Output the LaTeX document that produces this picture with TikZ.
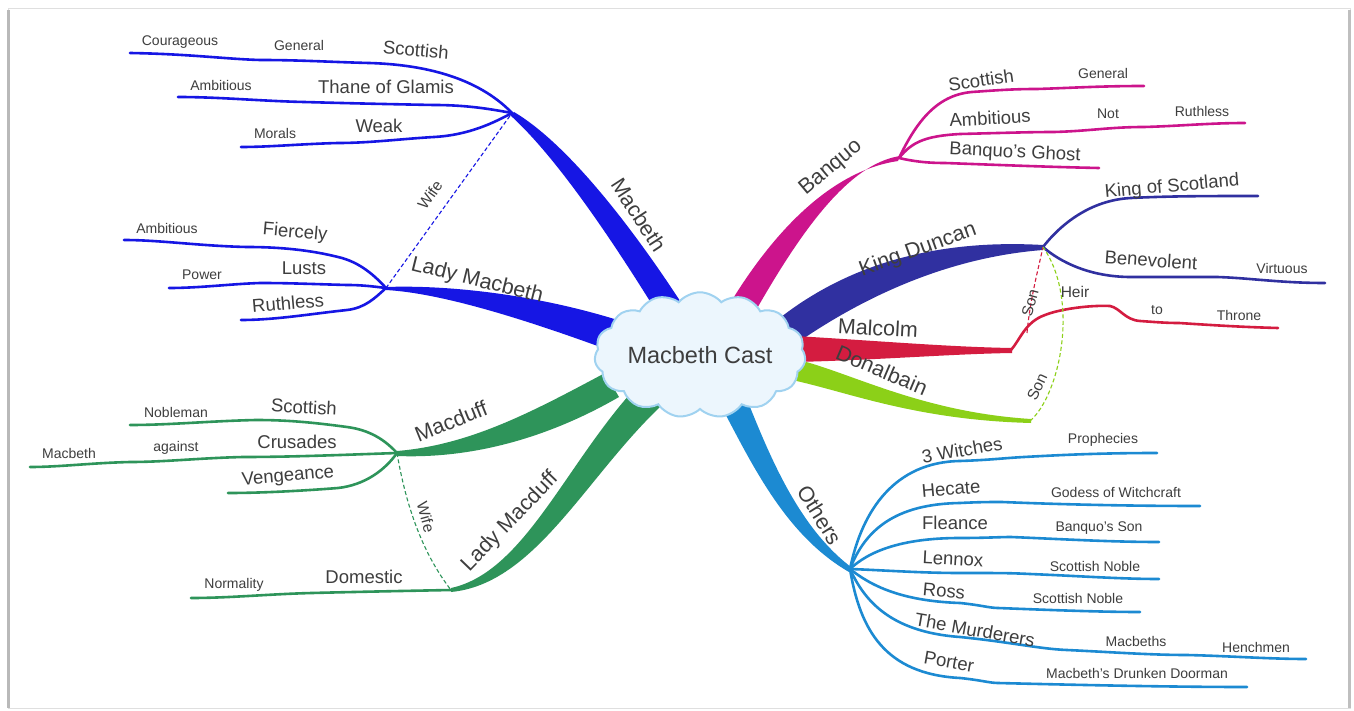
\documentclass[tikz,border=0pt]{standalone}
\usepackage{fontspec}
\setmainfont{Liberation Sans}
\usetikzlibrary{shapes.symbols}
\definecolor{mbc}{RGB}{22,22,228}
\definecolor{bqc}{RGB}{204,20,140}
\definecolor{kdc}{RGB}{48,48,160}
\definecolor{mcc}{RGB}{212,28,64}
\definecolor{dnc}{RGB}{140,208,24}
\definecolor{otc}{RGB}{28,138,210}
\definecolor{mdc}{RGB}{46,148,90}
\definecolor{txc}{RGB}{62,62,62}
\definecolor{cldf}{RGB}{236,246,253}
\definecolor{cldd}{RGB}{160,210,240}
\begin{document}
\begin{tikzpicture}[x=1pt,y=-1pt,
  main/.style={font=\fontsize{21.5}{24}\selectfont, text=txc, inner sep=0pt},
  sub/.style={font=\fontsize{18.5}{21}\selectfont, text=txc, inner sep=0pt},
  leaf/.style={font=\fontsize{14}{16}\selectfont, text=txc, inner sep=0pt},
  rl/.style={font=\fontsize{15.5}{17}\selectfont, text=txc, inner sep=0pt},
  br/.style={line width=2.6pt, line cap=round, line join=round},
  rel/.style={line width=1.1pt, dash pattern=on 4pt off 2.5pt},
]
\fill[white] (0,0) rectangle (1354,711);
\useasboundingbox (0,0) rectangle (1354,711);
\draw[gray!25, line width=1pt] (8,9) rectangle (1350,708);
\draw[gray!55, line width=2.5pt] (8.5,10) -- (8.5,708);
\draw[gray!50, line width=2.5pt] (1349.5,10) -- (1349.5,708);

% hubs
\coordinate (MB) at (512,113);
\coordinate (LMB) at (386,288);
\coordinate (MD) at (397,453);
\coordinate (LMD) at (451,590);
\coordinate (BQ) at (899,158);
\coordinate (KD) at (1043,247);
\coordinate (OT) at (850,569);
\coordinate (ML) at (1011,350);
\coordinate (DB) at (1030,421);
\coordinate (MLs) at (1027,333);

% thick main branches
\fill[mbc] (514,112) .. controls (575,148) and (648,250) .. (691,318) -- (669,332) .. controls (625,260) and (562,162) .. (510,115) -- cycle;
\fill[mbc] (386,287) .. controls (440,285) and (530,292) .. (624,322) -- (614,352) .. controls (522,318) and (440,293) .. (386,290) -- cycle;
\fill[mdc] (397,451) .. controls (470,445) and (532,412) .. (605,373) -- (619,397) .. controls (548,438) and (472,459) .. (397,456) -- cycle;
\fill[mdc] (451,588) .. controls (525,572) and (566,462) .. (639,384) -- (661,406) .. controls (585,478) and (535,584) .. (451,592) -- cycle;
\fill[bqc] (900,156) .. controls (848,164) and (800,232) .. (751,319) -- (729,305) .. controls (778,224) and (836,170) .. (898,161) -- cycle;
\fill[kdc] (1043,245) .. controls (955,240) and (858,255) .. (776,321) -- (794,345) .. controls (880,285) and (965,256) .. (1043,250) -- cycle;
\fill[mcc] (795,336) .. controls (880,341) and (950,347) .. (1012,348) -- (1012,353) .. controls (950,354) and (880,360) .. (795,362) -- cycle;
\fill[dnc] (795,359) .. controls (850,372) and (920,412) .. (1031,419) -- (1031,423) .. controls (915,420) and (848,392) .. (792,380) -- cycle;
\fill[otc] (744,392) .. controls (768,452) and (797,526) .. (851,567) -- (849,572) .. controls (785,535) and (752,464) .. (720,404) -- cycle;

% Macbeth sub-branches
\draw[br,mbc] (MB) .. controls (485,85) and (440,65) .. (369,63) .. controls (330,62) and (300,60) .. (260,60) .. controls (225,59) and (190,54) .. (130,53) coordinate (mbS);
\draw[br,mbc] (MB) .. controls (495,110) and (470,105) .. (434,105) .. controls (380,104) and (340,103) .. (304,102) .. controls (260,101) and (220,97) .. (178,97) coordinate (mbT);
\draw[br,mbc] (MB) .. controls (495,122) and (470,135) .. (434,137) .. controls (400,139) and (370,143) .. (338,143) .. controls (300,144) and (270,147) .. (241,147) coordinate (mbW);
% Lady Macbeth
\draw[br,mbc] (LMB) .. controls (375,276) and (360,262) .. (338,257) .. controls (310,250) and (280,247) .. (247,247) .. controls (200,246) and (160,240) .. (124,240) coordinate (lmF);
\draw[br,mbc] (LMB) .. controls (370,286) and (360,285) .. (347,285) .. controls (310,284) and (290,283) .. (260,283) .. controls (230,284) and (200,288) .. (169,288) coordinate (lmL);
\draw[br,mbc] (LMB) .. controls (375,298) and (365,308) .. (347,310) .. controls (310,314) and (275,320) .. (241,320) coordinate (lmR);
\draw[rel,mbc] (LMB) -- (MB);
% Macduff
\draw[br,mdc] (MD) .. controls (385,440) and (370,430) .. (347,427) .. controls (310,422) and (285,420) .. (256,420) .. controls (210,421) and (170,425) .. (130,425) coordinate (mdS);
\draw[br,mdc] (MD) .. controls (340,455) and (290,457) .. (243,457) .. controls (200,458) and (165,462) .. (130,462) .. controls (90,463) and (60,467) .. (30,467) coordinate (mdC);
\draw[br,mdc] (MD) .. controls (385,470) and (365,485) .. (338,488) .. controls (300,491) and (260,493) .. (228,493) coordinate (mdV);
\draw[br,mdc] (LMD) .. controls (400,591) and (350,592) .. (312,593) .. controls (270,594) and (230,598) .. (191,598) coordinate (lmdD);
\draw[rel,mdc] (MD) .. controls (405,500) and (420,550) .. (LMD);
% Banquo
\draw[br,bqc] (BQ) .. controls (915,125) and (935,95) .. (972,92) .. controls (1000,90) and (1015,89) .. (1037,89) .. controls (1070,88) and (1100,86) .. (1144,86) coordinate (bqS);
\draw[br,bqc] (BQ) .. controls (912,142) and (925,136) .. (960,134) .. controls (1000,133) and (1030,132) .. (1054,132) .. controls (1090,131) and (1110,127) .. (1144,127) .. controls (1180,126) and (1210,123) .. (1245,123) coordinate (bqA);
\draw[br,bqc] (BQ) .. controls (912,161) and (925,163) .. (945,163) .. controls (1000,165) and (1050,167) .. (1099,168) coordinate (bqG);
% King Duncan
\draw[br,kdc] (KD) .. controls (1060,225) and (1090,200) .. (1131,198) .. controls (1170,196) and (1210,196) .. (1258,196) coordinate (kdK);
\draw[br,kdc] (KD) .. controls (1060,262) and (1090,277) .. (1131,277) .. controls (1160,277) and (1190,277) .. (1217,277) .. controls (1250,278) and (1280,283) .. (1325,283) coordinate (kdB);
% Malcolm
\draw[br,mcc] (ML) .. controls (1020,340) and (1025,322) .. (1045,315) .. controls (1060,309) and (1090,305) .. (1110,306) .. controls (1120,308) and (1125,320) .. (1140,321) .. controls (1155,322) and (1165,323) .. (1179,323) .. controls (1210,325) and (1240,327) .. (1278,328) coordinate (mlT);
\draw[rel,mcc] (MLs) .. controls (1030,300) and (1038,270) .. (KD);
\draw[rel,dnc] (DB) .. controls (1060,395) and (1080,300) .. (KD);
% Others
\draw[br,otc] (OT) .. controls (862,510) and (895,462) .. (960,461) .. controls (990,460) and (1005,458) .. (1024,457) .. controls (1060,455) and (1100,453) .. (1157,453) coordinate (ot1);
\draw[br,otc] (OT) .. controls (865,530) and (895,504) .. (960,503) .. controls (980,502) and (990,502) .. (1002,502) .. controls (1050,504) and (1120,506) .. (1200,506) coordinate (ot2);
\draw[br,otc] (OT) .. controls (868,552) and (900,538) .. (960,538) .. controls (985,538) and (1000,537) .. (1011,537) .. controls (1060,539) and (1110,542) .. (1159,542) coordinate (ot3);
\draw[br,otc] (OT) .. controls (880,570) and (920,573) .. (960,573) .. controls (1000,573) and (1010,573) .. (1030,574) .. controls (1080,576) and (1120,579) .. (1159,579) coordinate (ot4);
\draw[br,otc] (OT) .. controls (870,585) and (900,601) .. (960,603) .. controls (980,605) and (990,608) .. (998,608) .. controls (1050,610) and (1100,612) .. (1140,612) coordinate (ot5);
\draw[br,otc] (OT) .. controls (864,600) and (890,632) .. (960,637) .. controls (1010,642) and (1040,649) .. (1067,650) .. controls (1110,652) and (1150,655) .. (1187,655) .. controls (1230,656) and (1270,659) .. (1306,659) coordinate (ot6);
\draw[br,otc] (OT) .. controls (860,630) and (885,674) .. (960,678) .. controls (980,680) and (990,683) .. (998,683) .. controls (1080,685) and (1170,687) .. (1247,687) coordinate (ot7);

% cloud
\node[cloud, cloud puffs=15, cloud puff arc=100, aspect=1.9, minimum width=200pt, minimum height=112pt, draw=cldd, line width=2pt, fill=cldf, inner sep=0pt, font=\fontsize{23.5}{26}\selectfont, text=txc] (C) at (700,355) {Macbeth Cast};

% labels Macbeth
\node[leaf] (t1) at (180,42) {Courageous};
\node[leaf] (t2) at (299,45) {General};
\node[sub, rotate=-5] (t3) at (416,50) {Scottish};
\node[leaf] (t4) at (221,85) {Ambitious};
\node[sub] (t5) at (386,87) {Thane of Glamis};
\node[leaf] (t6) at (275,133) {Morals};
\node[sub] (t7) at (379,126) {Weak};
\node[rl, rotate=55] (t8) at (430,195) {Wife};
\node[leaf] (t9) at (167,228) {Ambitious};
\node[sub, rotate=-5] (t10) at (295,233) {Fiercely};
\node[leaf] (t11) at (202,275) {Power};
\node[sub] (t12) at (304,268) {Lusts};
\node[sub, rotate=5] (t13) at (288,303) {Ruthless};
\node[main, rotate=-14] (t14) at (477,281) {Lady Macbeth};
\node[main, rotate=-57] (t15) at (639,215) {Macbeth};
% labels Macduff
\node[leaf] (t16) at (176,412) {Nobleman};
\node[sub, rotate=-3] (t17) at (304,407) {Scottish};
\node[leaf] (t18) at (69,453) {Macbeth};
\node[leaf] (t19) at (176,448) {against};
\node[sub] (t20) at (297,442) {Crusades};
\node[sub, rotate=5] (t21) at (288,477) {Vengeance};
\node[main, rotate=22] (t22) at (451,421) {Macduff};
\node[rl, rotate=-75] (t23) at (426,517) {Wife};
\node[main, rotate=46] (t24) at (510,522) {Lady Macduff};
\node[leaf] (t25) at (234,585) {Normality};
\node[sub] (t26) at (364,577) {Domestic};
% labels right
\node[main, rotate=40] (t27) at (831,168) {Banquo};
\node[sub, rotate=8] (t28) at (981,80) {Scottish};
\node[leaf] (t29) at (1103,73) {General};
\node[sub, rotate=3] (t30) at (990,118) {Ambitious};
\node[leaf] (t31) at (1108,114) {Not};
\node[leaf] (t32) at (1202,111) {Ruthless};
\node[sub, rotate=-3] (t33) at (1015,153) {Banquo's Ghost};
\node[main, rotate=20] (t34) at (918,250) {King Duncan};
\node[sub, rotate=5] (t35) at (1172,187) {King of Scotland};
\node[sub, rotate=-4] (t36) at (1151,260) {Benevolent};
\node[leaf] (t37) at (1282,268) {Virtuous};
\node[main, rotate=-3] (t38) at (878,328) {Malcolm};
\node[rl] (t39) at (1075,292) {Heir};
\node[leaf] (t40) at (1157,310) {to};
\node[leaf] (t41) at (1239,315) {Throne};
\node[rl, rotate=75] (t42) at (1030,303) {Son};
\node[main, rotate=-23] (t43) at (882,370) {Donalbain};
\node[rl, rotate=65] (t44) at (1037,387) {Son};
\node[main, rotate=-58] (t45) at (820,515) {Others};
\node[sub, rotate=10] (t46) at (962,450) {3 Witches};
\node[leaf] (t47) at (1103,440) {Prophecies};
\node[sub, rotate=5] (t48) at (951,489) {Hecate};
\node[leaf] (t49) at (1116,492) {Godess of Witchcraft};
\node[sub] (t50) at (955,523) {Fleance};
\node[leaf] (t51) at (1099,528) {Banquo's Son};
\node[sub, rotate=-3] (t52) at (953,559) {Lennox};
\node[leaf] (t53) at (1095,566) {Scottish Noble};
\node[sub, rotate=-5] (t54) at (944,591) {Ross};
\node[leaf] (t55) at (1078,598) {Scottish Noble};
\node[sub, rotate=-10] (t56) at (975,630) {The Murderers};
\node[leaf] (t57) at (1136,641) {Macbeths};
\node[leaf] (t58) at (1256,647) {Henchmen};
\node[sub, rotate=-10] (t59) at (949,662) {Porter};
\node[leaf] (t60) at (1137,673) {Macbeth's Drunken Doorman};
\end{tikzpicture}
\end{document}
